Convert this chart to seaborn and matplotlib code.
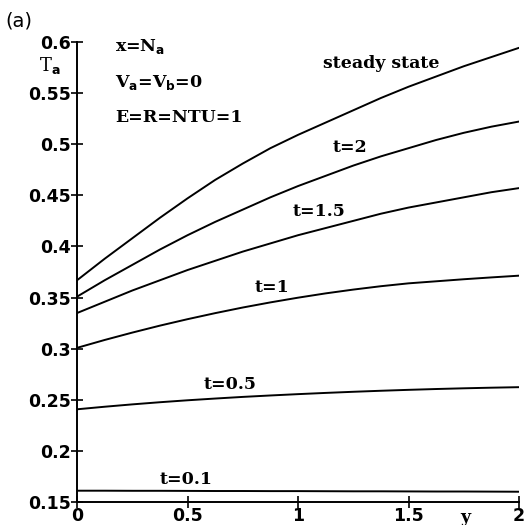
import numpy as np
import pandas as pd
import seaborn as sns
import matplotlib.pyplot as plt

# values (y = 0..2 step 0.125)
y_pos = [0, 0.125, 0.25, 0.375, 0.5, 0.625, 0.75, 0.875, 1.0,
         1.125, 1.25, 1.375, 1.5, 1.625, 1.75, 1.875, 2.0]
steady = [0.367, 0.388, 0.408, 0.428, 0.447, 0.465, 0.481, 0.496, 0.509,
          0.521, 0.533, 0.545, 0.556, 0.566, 0.576, 0.585, 0.594]
t_2 = [0.351, 0.367, 0.382, 0.397, 0.411, 0.424, 0.436, 0.448, 0.459,
       0.469, 0.479, 0.488, 0.496, 0.504, 0.511, 0.517, 0.522]
t_15 = [0.335, 0.346, 0.357, 0.367, 0.377, 0.386, 0.395, 0.403, 0.411,
        0.418, 0.425, 0.432, 0.438, 0.443, 0.448, 0.453, 0.457]
t_1 = [0.301, 0.3087, 0.3159, 0.3227, 0.329, 0.3349, 0.3404, 0.3454, 0.350,
       0.3542, 0.3579, 0.3612, 0.364, 0.366, 0.368, 0.3698, 0.3715]
t_05 = [0.241, 0.2435, 0.2458, 0.2479, 0.2498, 0.2515, 0.2531, 0.2545, 0.2558,
        0.257, 0.2581, 0.2591, 0.26, 0.2608, 0.2615, 0.2621, 0.2626]
t_01 = [0.1615, 0.1615, 0.1614, 0.1614, 0.1613, 0.1612, 0.1612, 0.1611, 0.1611,
        0.161, 0.1609, 0.1609, 0.1608, 0.1607, 0.1607, 0.1606, 0.1605]

curve_names = ['steady state', 't=2', 't=1.5', 't=1', 't=0.5', 't=0.1']
curves = [steady, t_2, t_15, t_1, t_05, t_01]

# label anchor points (data coords)
label_x = [1.376, 1.235, 1.095, 0.882, 0.692, 0.493]
label_y = [0.579, 0.4966, 0.4343, 0.3604, 0.2655, 0.172]

df = pd.concat([pd.DataFrame({'y': y_pos, 'Ta': c, 'curve': n})
                for n, c in zip(curve_names, curves)])

sns.set_style('ticks')
plt.rcParams['font.family'] = ['DejaVu Sans']
plt.rcParams['text.color'] = 'black'

fig = plt.figure(figsize=(5.29, 5.25), dpi=100)
ax = fig.add_axes([0.1456, 0.0429, 0.8355, 0.8777])

sns.lineplot(data=df, x='y', y='Ta', hue='curve', palette=['black'] * 6,
             legend=False, lw=1.4, ax=ax)

ax.set_xlim(0, 2)
ax.set_ylim(0.15, 0.6)
ax.set_xticks([0, 0.5, 1, 1.5, 2])
ax.set_xticklabels(['0', '0.5', '1', '1.5', '2'])
ax.set_yticks(np.arange(0.15, 0.601, 0.05))
ax.set_yticklabels(['0.15', '0.2', '0.25', '0.3', '0.35', '0.4', '0.45', '0.5', '0.55', '0.6'])
ax.tick_params(direction='inout', length=9, width=1.2, labelsize=12.5, pad=0,
               colors='black')
ax.tick_params(axis='x', pad=-1)
for lab in ax.get_xticklabels() + ax.get_yticklabels():
    lab.set_fontweight('bold')
sns.despine(ax=ax)
for s in ['left', 'bottom']:
    ax.spines[s].set_linewidth(1.4)
    ax.spines[s].set_color('black')
ax.set_xlabel('')
ax.set_ylabel('')

serif = {'family': 'DejaVu Serif', 'weight': 'bold', 'size': 12.5, 'color': 'black'}
for name, lx, ly in zip(curve_names, label_x, label_y):
    ax.text(lx, ly, name, ha='center', va='center', fontdict=serif)

fig.text(465 / 529, 1 - 518 / 525, 'y', ha='center', va='center', fontdict=serif)
fig.text(50 / 529, 1 - 66 / 525, r'T$_{\mathbf{a}}$', ha='center', va='center',
         fontdict={'family': 'DejaVu Serif', 'size': 13, 'color': 'black'})
fig.text(115 / 529, 1 - 47 / 525, r'x=N$_{\mathbf{a}}$', ha='left', va='center', fontdict=serif)
fig.text(115 / 529, 1 - 82 / 525, r'V$_{\mathbf{a}}$=V$_{\mathbf{b}}$=0', ha='left', va='center', fontdict=serif)
fig.text(115 / 529, 1 - 118 / 525, 'E=R=NTU=1', ha='left', va='center', fontdict=serif)
fig.text(5 / 529, 1 - 21 / 525, '(a)', ha='left', va='center',
         fontdict={'family': 'DejaVu Sans', 'size': 14, 'color': 'black'})

plt.savefig('out.png', dpi=100)
